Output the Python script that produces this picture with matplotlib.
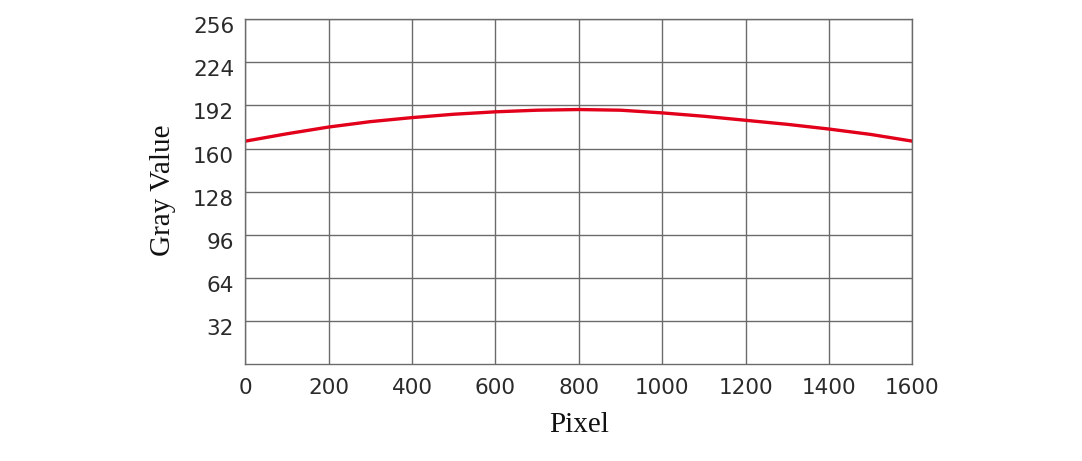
import matplotlib
matplotlib.use("Agg")
import matplotlib.pyplot as plt
import matplotlib.transforms as mtransforms

# Data
pixel = [0, 100, 200, 300, 400, 500, 600, 700, 800, 900, 1000, 1100, 1200, 1300, 1400, 1500, 1600]
gray = [165.5, 171.0, 176.0, 180.0, 183.0, 185.5, 187.3, 188.5, 189.0, 188.5, 186.5, 184.0, 181.0, 178.0, 174.5, 170.5, 165.5]
xticks = [0, 200, 400, 600, 800, 1000, 1200, 1400, 1600]
yticks = [32, 64, 96, 128, 160, 192, 224, 256]

fig = plt.figure(figsize=(10.82, 4.61), dpi=100)
ax = fig.add_axes([0.2267, 0.2104, 0.6166, 0.7477])

ax.plot(pixel, gray, color="#e2001a", lw=2.4, solid_joinstyle="round")

ax.set_xlim(0, 1600)
ax.set_ylim(0, 256)
ax.set_xticks(xticks)
ax.set_yticks(yticks)
ax.grid(True, color="#6b6b6b", lw=1.0)
ax.set_axisbelow(True)
for s in ax.spines.values():
    s.set_color("#6b6b6b")
    s.set_linewidth(1.0)

ax.tick_params(length=0, labelsize=15.5, colors="#2a2a2a")
ax.tick_params(axis="y", pad=8)
ax.tick_params(axis="x", pad=10)
offset = mtransforms.ScaledTranslation(0, -6 / 100, fig.dpi_scale_trans)
for lab in ax.get_yticklabels():
    lab.set_transform(lab.get_transform() + offset)
for lab in ax.get_xticklabels() + ax.get_yticklabels():
    lab.set_family(["DejaVu Sans"])

ax.set_xlabel("Pixel", family=["Liberation Serif"], fontsize=21, color="#111111", va="center")
ax.set_ylabel("Gray Value", family=["Liberation Serif"], fontsize=21, color="#111111", va="center")
ax.xaxis.set_label_coords(0.5, -0.177)
ax.yaxis.set_label_coords(-0.1230, 0.505)

fig.savefig("out.png", dpi=100)
